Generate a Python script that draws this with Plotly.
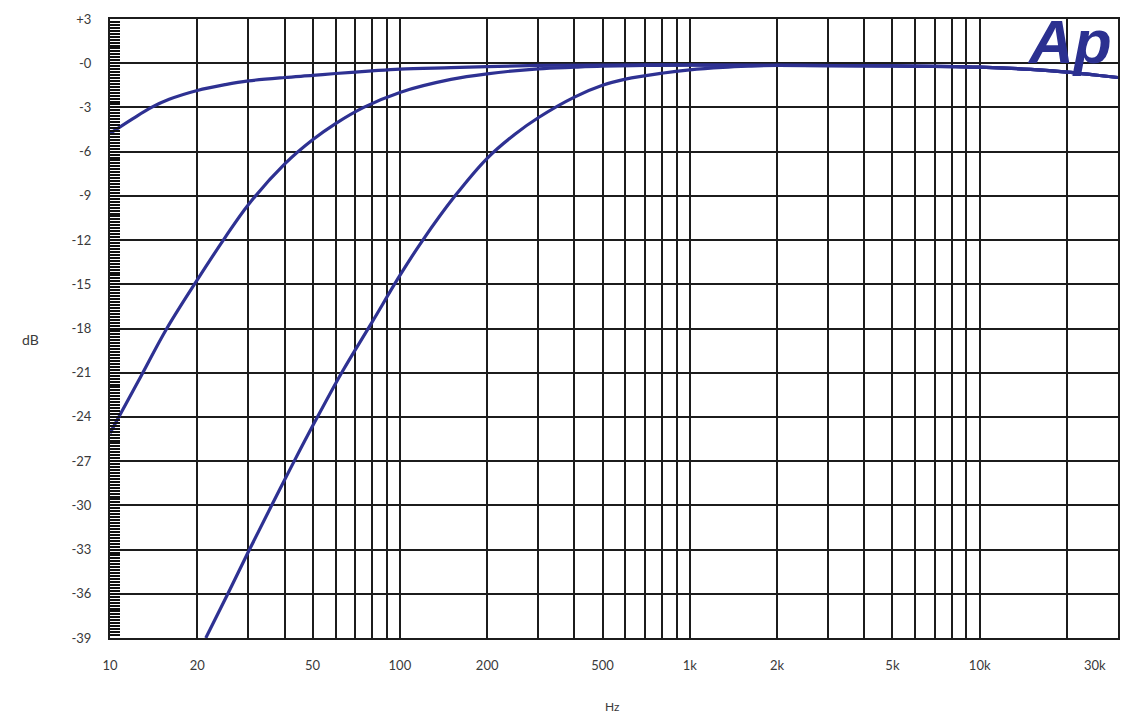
import math
import plotly.graph_objects as go

# ---- data ----
hf_freq = [2000, 5000, 10000, 15000, 20000, 25000, 30000]
hf_db = [-0.15, -0.18, -0.27, -0.42, -0.6, -0.8, -0.97]

c1_freq = [10, 12, 13.9, 16, 20, 25, 30, 40, 50, 60, 80, 100, 150, 200, 300, 500, 1000] + hf_freq
c1_db = [-4.77, -3.76, -3.0, -2.45, -1.85, -1.45, -1.2, -0.97, -0.83, -0.7, -0.52, -0.4, -0.3, -0.23, -0.15, -0.12, -0.12] + hf_db

c2_freq = [10, 12.5, 15.7, 20, 25, 30, 40, 50, 60, 75, 100, 150, 200, 300, 400, 500, 700, 1000] + hf_freq
c2_db = [-25.1, -21.6, -18.0, -14.7, -11.8, -9.6, -6.85, -5.2, -4.1, -3.0, -1.98, -1.1, -0.72, -0.38, -0.27, -0.2, -0.15, -0.13] + hf_db

c3_freq = [21.4, 25.5, 30.1, 35.9, 43.2, 51, 63.4, 80, 100, 119, 155, 200, 250, 300, 400, 500, 600, 800, 1000, 1300, 1600] + hf_freq
c3_db = [-39, -36, -33.1, -30.1, -27.0, -24.3, -20.9, -17.6, -14.4, -12.1, -9, -6.45, -4.8, -3.7, -2.3, -1.5, -1.08, -0.68, -0.45, -0.28, -0.2] + hf_db

x_grid = [10, 20, 30, 40, 50, 60, 70, 80, 90,
          100, 200, 300, 400, 500, 600, 700, 800, 900,
          1000, 2000, 3000, 4000, 5000, 6000, 7000, 8000, 9000,
          10000, 20000]
x_labels = {10: "10", 20: "20", 50: "50", 100: "100", 200: "200", 500: "500",
            1000: "1k", 2000: "2k", 5000: "5k", 10000: "10k"}
x_end_label = (30000, "30k")

y_ticks = list(range(3, -40, -3))
y_labels = ["+3", "-0"] + [str(v) for v in y_ticks[2:]]

LINE = "#2e3192"
FONT = dict(family="Lato, 'Open Sans', sans-serif", size=13, color="#3a3a3a")

PLOT_L, PLOT_R, PLOT_T, PLOT_B = 110, 1120, 15, 637.7
PW, PH = PLOT_R - PLOT_L, PLOT_B - PLOT_T

fig = go.Figure()
for fx, fy in [(c1_freq, c1_db), (c2_freq, c2_db), (c3_freq, c3_db)]:
    fig.add_trace(go.Scatter(x=fx, y=fy, mode="lines",
                             line=dict(color=LINE, width=3.2, shape="spline", smoothing=1.0),
                             showlegend=False, hoverinfo="skip"))

fig.update_layout(
    width=1131, height=720,
    margin=dict(l=110, r=11, t=15, b=82),
    paper_bgcolor="white", plot_bgcolor="white",
    font=FONT,
    xaxis=dict(type="log", range=[1, math.log10(30000)],
               tickmode="array", tickvals=x_grid,
               ticktext=[x_labels.get(v, "") for v in x_grid],
               showgrid=True, gridcolor="#1c1c1c", gridwidth=2,
               showline=True, linecolor="#1c1c1c", linewidth=2, mirror=True,
               ticks="", ticklabelstandoff=14, zeroline=False,
               tickfont=FONT),
    yaxis=dict(range=[-39, 3], tickmode="array", tickvals=y_ticks, ticktext=y_labels,
               showgrid=True, gridcolor="#1c1c1c", gridwidth=2,
               showline=True, linecolor="#1c1c1c", linewidth=2, mirror=True,
               ticks="inside", ticklen=10, tickwidth=1.6, tickcolor="#111",
               minor=dict(tick0=0, dtick=0.2, ticks="inside", ticklen=10,
                          tickwidth=1.6, tickcolor="#111", showgrid=False),
               ticklabelstandoff=14, zeroline=False, tickfont=FONT),
)

fig.add_annotation(x=math.log10(x_end_label[0]), y=0, xref="x", yref="paper",
                   text=x_end_label[1], showarrow=False, xanchor="center",
                   yanchor="top", xshift=-23, yshift=-17, font=FONT)
fig.add_annotation(x=(613 - PLOT_L) / PW, y=-(707 - PLOT_B) / PH, xref="paper", yref="paper",
                   text="Hz", showarrow=False, yanchor="middle",
                   font=dict(family=FONT["family"], size=12, color="#3a3a3a"))
fig.add_annotation(x=-(PLOT_L - 20) / PW, y=(PLOT_B - 337) / PH, xref="paper", yref="paper",
                   text="dB", showarrow=False, yanchor="middle",
                   font=dict(family=FONT["family"], size=14, color="#3a3a3a"))

fig.add_annotation(x=1.0, y=1.0, xref="paper", yref="paper",
                   text="<b><i>Ap</i></b>", showarrow=False,
                   xanchor="right", yanchor="top", xshift=-4, yshift=14,
                   font=dict(family="Liberation Sans, Arial, sans-serif", size=62, color="#2b3090"))

fig.write_html("out.html")
